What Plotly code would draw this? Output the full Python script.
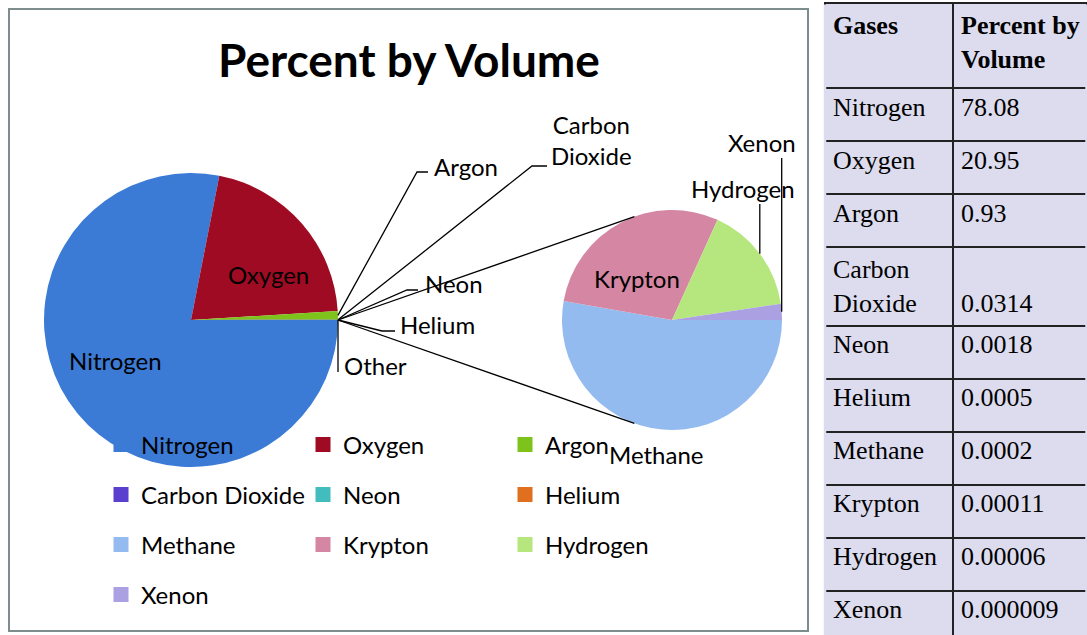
import math
import numpy as np
import plotly.graph_objects as go

# ---------------- data ----------------
gases = ["Nitrogen", "Oxygen", "Argon", "Carbon Dioxide", "Neon", "Helium",
         "Methane", "Krypton", "Hydrogen", "Xenon"]
percent = [78.08, 20.95, 0.93, 0.0314, 0.0018, 0.0005,
           0.0002, 0.00011, 0.00006, 0.000009]
colors = ["#3b7bd6", "#a00b24", "#7dc31b", "#5b40cf", "#41bdbd", "#e0701f",
          "#94bbf0", "#d486a2", "#b6e77e", "#aaa0e2"]
other_color = "#4a7ebb"

main_labels = gases[:6] + ["Other"]
main_values = percent[:6] + [sum(percent[6:])]
sec_labels = gases[6:]
sec_values = percent[6:]

# ---------------- geometry helpers (pixels -> paper) ----------------
W, H = 1087, 635
def px(x): return x / W
def py(y): return 1 - y / H

FONT = "Lato"
LAV = "#dcdcee"
LBL = 24

MAIN_C, MAIN_R = (191, 320), 147
SEC_C, SEC_R = (672, 320), 110

def slice_point(values, idx, center, r, where=0.5):
    tot = sum(values)
    frac = (sum(values[:idx]) + values[idx] * where) / tot
    a = math.radians(90 + frac * 360)
    return center[0] + r * math.sin(a), center[1] - r * math.cos(a)

fig = go.Figure()

# main pie
fig.add_trace(go.Pie(
    labels=main_labels, values=main_values, sort=False,
    direction="clockwise", rotation=90,
    domain=dict(x=[px(MAIN_C[0] - MAIN_R), px(MAIN_C[0] + MAIN_R)],
                y=[py(MAIN_C[1] + MAIN_R), py(MAIN_C[1] - MAIN_R)]),
    marker=dict(colors=colors[:6] + [other_color], line=dict(width=0)),
    textinfo="none",
    showlegend=False, hoverinfo="label+value",
))

# secondary pie
fig.add_trace(go.Pie(
    labels=sec_labels, values=sec_values, sort=False,
    direction="clockwise", rotation=90,
    domain=dict(x=[px(SEC_C[0] - SEC_R), px(SEC_C[0] + SEC_R)],
                y=[py(SEC_C[1] + SEC_R), py(SEC_C[1] - SEC_R)]),
    marker=dict(colors=colors[6:], line=dict(width=0)),
    textinfo="none",
    showlegend=False, hoverinfo="label+value",
))

# legend (dummy traces, 4 rows of 3)
rows = [gases[0:3], gases[3:6], gases[6:9], gases[9:10]]
row_y = [445, 495, 545, 595]
legend_names = ["legend", "legend2", "legend3", "legend4"]
for r, names in enumerate(rows):
    for g in names:
        i = gases.index(g)
        fig.add_trace(go.Scatter(
            x=[None], y=[None], mode="markers", name=g,
            marker=dict(symbol="square", size=15, color=colors[i]),
            legend=legend_names[r], showlegend=True, hoverinfo="skip"))

legend_common = dict(orientation="h", xanchor="left", yanchor="middle",
                     x=px(101), entrywidth=157, entrywidthmode="pixels",
                     font=dict(family=FONT, size=LBL, color="black"),
                     bgcolor="rgba(0,0,0,0)", borderwidth=0, itemwidth=30,
                     traceorder="normal", itemclick=False, itemdoubleclick=False)

# table
tbl_gas = [g.replace(" ", "<br>") for g in gases]
tbl_val = [np.format_float_positional(v, trim="-") for v in percent]
tbl_val = [("\u00a0<br>" + s) if "<br>" in g else s for g, s in zip(tbl_gas, tbl_val)]
fig.add_trace(go.Table(
    domain=dict(x=[px(825), 1.0], y=[0.0, py(3)]),
    columnwidth=[128, 134],
    header=dict(values=["<b>Gases</b>", "<b>Percent by<br>Volume</b>"],
                fill_color=LAV, line=dict(color="#222222", width=1.5),
                font=dict(family="Liberation Serif", size=26, color="black"),
                align="left", height=85),
    cells=dict(values=[tbl_gas, tbl_val],
               fill_color=LAV, line=dict(color="#222222", width=1.5),
               font=dict(family="Liberation Serif", size=26, color="black"),
               align="left", height=53),
))

# ---------------- leader lines and labels ----------------
shapes = []
annotations = []
def add_path(points):
    d = "M " + " L ".join(f"{px(x):.5f},{py(y):.5f}" for x, y in points)
    shapes.append(dict(type="path", path=d, xref="paper", yref="paper",
                       line=dict(color="black", width=1.3), layer="above"))

def add_label(text, x, y, xanchor="left", align="left"):
    annotations.append(dict(text=text, x=px(x), y=py(y), xref="paper", yref="paper",
                            xanchor=xanchor, yanchor="middle", showarrow=False,
                            align=align,
                            font=dict(family=FONT, size=LBL, color="black")))

# slice labels placed inside large slices
add_label(main_labels[0], 115, 360, xanchor="center", align="center")
add_label(main_labels[1], 268, 274, xanchor="center", align="center")
add_label(sec_labels[1], 637, 278, xanchor="center", align="center")

# main-pie small slices
s = slice_point(main_values, 2, MAIN_C, MAIN_R)
add_path([s, (417, 172), (428, 172)]); add_label(main_labels[2], 432, 166)
s = slice_point(main_values, 3, MAIN_C, MAIN_R)
add_path([s, (532, 166), (547, 166)])
add_label(main_labels[3].replace(" ", "<br>"), 591, 140, xanchor="center", align="center")
s = slice_point(main_values, 4, MAIN_C, MAIN_R)
add_path([s, (407, 290), (418, 290)]); add_label(main_labels[4], 423, 283)
s = slice_point(main_values, 5, MAIN_C, MAIN_R)
add_path([s, (382, 331), (395, 331)]); add_label(main_labels[5], 398, 324)
s = slice_point(main_values, 6, MAIN_C, MAIN_R)
add_path([s, (s[0], 372)]); add_label(main_labels[6], 342, 365)

# secondary pie labels
add_label(sec_labels[0], SEC_C[0] - 16, 455, xanchor="center", align="center")
s = slice_point(sec_values, 2, SEC_C, SEC_R)
add_path([s, (s[0], 204)]); add_label(sec_labels[2], 743, 188, xanchor="center")
s = slice_point(sec_values, 3, SEC_C, SEC_R)
add_path([s, (s[0], 158)]); add_label(sec_labels[3], 762, 143, xanchor="center")

# pie-of-pie connector lines (from "Other" slice to secondary pie)
o = slice_point(main_values, 6, MAIN_C, MAIN_R)
for ang in (340, 200):
    a = math.radians(ang)
    e = (SEC_C[0] + SEC_R * math.sin(a), SEC_C[1] - SEC_R * math.cos(a))
    add_path([o, e])

# chart border
shapes.append(dict(type="rect", xref="paper", yref="paper",
                   x0=px(9), x1=px(808), y0=py(631), y1=py(9),
                   line=dict(color="#7d8c8c", width=2), layer="above"))
# hide outer left/right table borders (image crop)
for xe in (825, 1086.5):
    shapes.append(dict(type="line", xref="paper", yref="paper",
                       x0=px(xe), x1=px(xe), y0=0, y1=py(4.5),
                       line=dict(color=LAV, width=2.5), layer="above"))

layout_legends = {}
for r, ln in enumerate(legend_names):
    d = dict(legend_common)
    d["y"] = py(row_y[r])
    layout_legends[ln] = d

fig.update_layout(
    width=W, height=H,
    margin=dict(l=0, r=0, t=0, b=0),
    paper_bgcolor="white", plot_bgcolor="rgba(0,0,0,0)",
    title=dict(text="<b>Percent by Volume</b>", x=px(409), xanchor="center",
               y=py(61), yanchor="middle",
               font=dict(family=FONT, size=46, color="black")),
    xaxis=dict(visible=False), yaxis=dict(visible=False),
    shapes=shapes, annotations=annotations,
    **layout_legends,
)

fig.write_html("out.html", config={"displayModeBar": False},
               post_script="document.body.style.margin='0';")
